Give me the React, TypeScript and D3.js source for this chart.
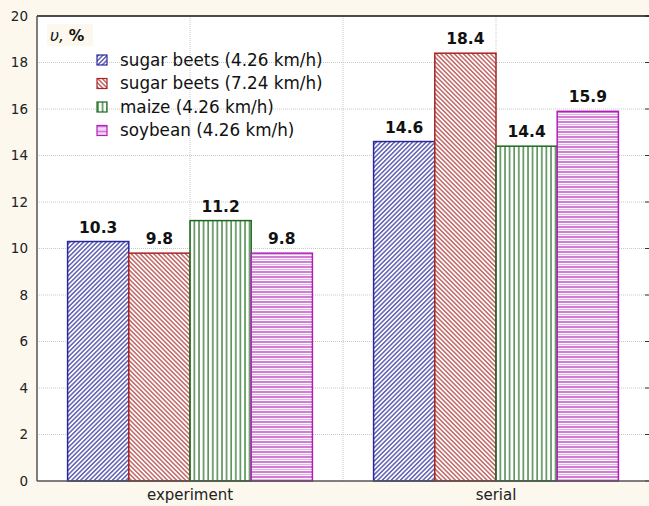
import React from "react";
import * as d3 from "d3";

const categories = ["experiment", "serial"];
const seriesNames = [
  "sugar beets (4.26 km/h)",
  "sugar beets (7.24 km/h)",
  "maize (4.26 km/h)",
  "soybean (4.26 km/h)",
];
const experimentValues = [10.3, 9.8, 11.2, 9.8];
const serialValues = [14.6, 18.4, 14.4, 15.9];
const yTicks = [0, 2, 4, 6, 8, 10, 12, 14, 16, 18, 20];

const colors = ["#28289a", "#a82424", "#1c6a1c", "#b020b8"];
const patternIds = ["p-blue", "p-red", "p-green", "p-mag"];

const W = 649;
const H = 506;
const margin = { top: 16, right: 0, bottom: 25, left: 37 };

function Patterns() {
  return (
    <defs>
      <pattern id="p-blue" width="3.2" height="3.2" patternUnits="userSpaceOnUse" patternTransform="rotate(45)">
        <rect width="3.2" height="3.2" fill="#fff" />
        <line x1="0.8" y1="0" x2="0.8" y2="3.2" stroke={colors[0]} strokeWidth="1.5" opacity="0.75" />
      </pattern>
      <pattern id="p-red" width="3.2" height="3.2" patternUnits="userSpaceOnUse" patternTransform="rotate(-45)">
        <rect width="3.2" height="3.2" fill="#fff" />
        <line x1="0.8" y1="0" x2="0.8" y2="3.2" stroke={colors[1]} strokeWidth="1.5" opacity="0.7" />
      </pattern>
      <pattern id="p-green" width="4.6" height="5" patternUnits="userSpaceOnUse">
        <rect width="4.6" height="5" fill="#fff" />
        <line x1="1" y1="0" x2="1" y2="5" stroke={colors[2]} strokeWidth="1.5" opacity="0.8" />
      </pattern>
      <pattern id="p-mag" width="5" height="5" patternUnits="userSpaceOnUse">
        <rect width="5" height="5" fill="#fff" />
        <line x1="0" y1="1" x2="5" y2="1" stroke={colors[3]} strokeWidth="1.4" opacity="0.85" />
        <line x1="0" y1="3.5" x2="5" y2="3.5" stroke={colors[3]} strokeWidth="1.2" opacity="0.35" />
      </pattern>
    </defs>
  );
}

export default function App() {
  const innerW = W - margin.left - margin.right;
  const innerH = H - margin.top - margin.bottom;
  const data = [experimentValues, serialValues];

  const x0 = d3.scaleBand().domain(categories).range([0, innerW]).paddingInner(0).paddingOuter(0);
  const groupPad = x0.bandwidth() * 0.1;
  const x1 = d3
    .scaleBand()
    .domain(seriesNames)
    .range([groupPad, x0.bandwidth() - groupPad])
    .padding(0);
  const y = d3.scaleLinear().domain([0, 20]).range([innerH, 0]);

  const vGrid = d3.range(1, 4).map((i) => (innerW / 4) * i);

  return (
    <div style={{ position: "absolute", left: 0, top: 0 }}>
      <svg width={W} height={H} style={{ display: "block", fontFamily: "'DejaVu Sans', Tahoma, sans-serif" }}>
        <Patterns />
        <rect width={W} height={H} fill="#fcf8ee" />
        <g transform={`translate(${margin.left},${margin.top})`}>
          <rect width={innerW} height={innerH} fill="#fff" />
          {yTicks.slice(1, -1).map((t) => (
            <line key={t} x1={0} x2={innerW} y1={y(t)} y2={y(t)} stroke="#c8c8c8" strokeDasharray="1,1" />
          ))}
          {vGrid.map((gx) => (
            <line key={gx} x1={gx} x2={gx} y1={0} y2={innerH} stroke="#c8c8c8" strokeDasharray="1,1" />
          ))}
          {yTicks.map((t) => (
            <g key={t}>
              <text x={-9} y={y(t)} dy="0.35em" textAnchor="end" fontSize="13.5" fill="#222">
                {t}
              </text>
              <line x1={innerW - 4} x2={innerW} y1={y(t)} y2={y(t)} stroke="#333" />
            </g>
          ))}

          {categories.map((c, ci) => (
            <g key={c} transform={`translate(${x0(c)},0)`}>
              {seriesNames.map((s, si) => {
                const v = data[ci][si];
                const bx = x1(s) as number;
                return (
                  <g key={s}>
                    <rect
                      x={bx}
                      y={y(v)}
                      width={x1.bandwidth()}
                      height={innerH - y(v)}
                      fill={`url(#${patternIds[si]})`}
                      stroke={colors[si]}
                      strokeWidth="1.5"
                    />
                    <text
                      x={bx + x1.bandwidth() / 2}
                      y={y(v) - 9}
                      textAnchor="middle"
                      fontSize="15.5"
                      fontWeight="bold"
                      fill="#111"
                    >
                      {v.toFixed(1)}
                    </text>
                  </g>
                );
              })}
              <text x={x0.bandwidth() / 2} y={innerH + 19} textAnchor="middle" fontSize="15" fill="#222">
                {c}
              </text>
            </g>
          ))}

          <line x1={0} x2={innerW} y1={0} y2={0} stroke="#111" strokeWidth="1.5" />
          <line x1={0} x2={0} y1={0} y2={innerH} stroke="#555" strokeWidth="1.5" />
          <line x1={0} x2={innerW} y1={innerH} y2={innerH} stroke="#555" strokeWidth="1.5" />

          <rect x={10} y={8} width={46} height={22} fill="#fcf8ee" />
          <text x={13} y={25} fontSize="15.5" fontStyle="italic" fill="#111">
            υ, <tspan fontWeight="bold" fontStyle="normal">%</tspan>
          </text>
          {seriesNames.map((s, si) => (
            <g key={s} transform={`translate(60,${44 + si * 23.5})`}>
              <rect x={0} y={-5} width={10} height={10} fill={`url(#${patternIds[si]})`} stroke={colors[si]} strokeWidth="1.2" />
              <text x={23} y={0} dy="0.35em" fontSize="16.8" fill="#111">
                {s}
              </text>
            </g>
          ))}
        </g>
      </svg>
    </div>
  );
}
